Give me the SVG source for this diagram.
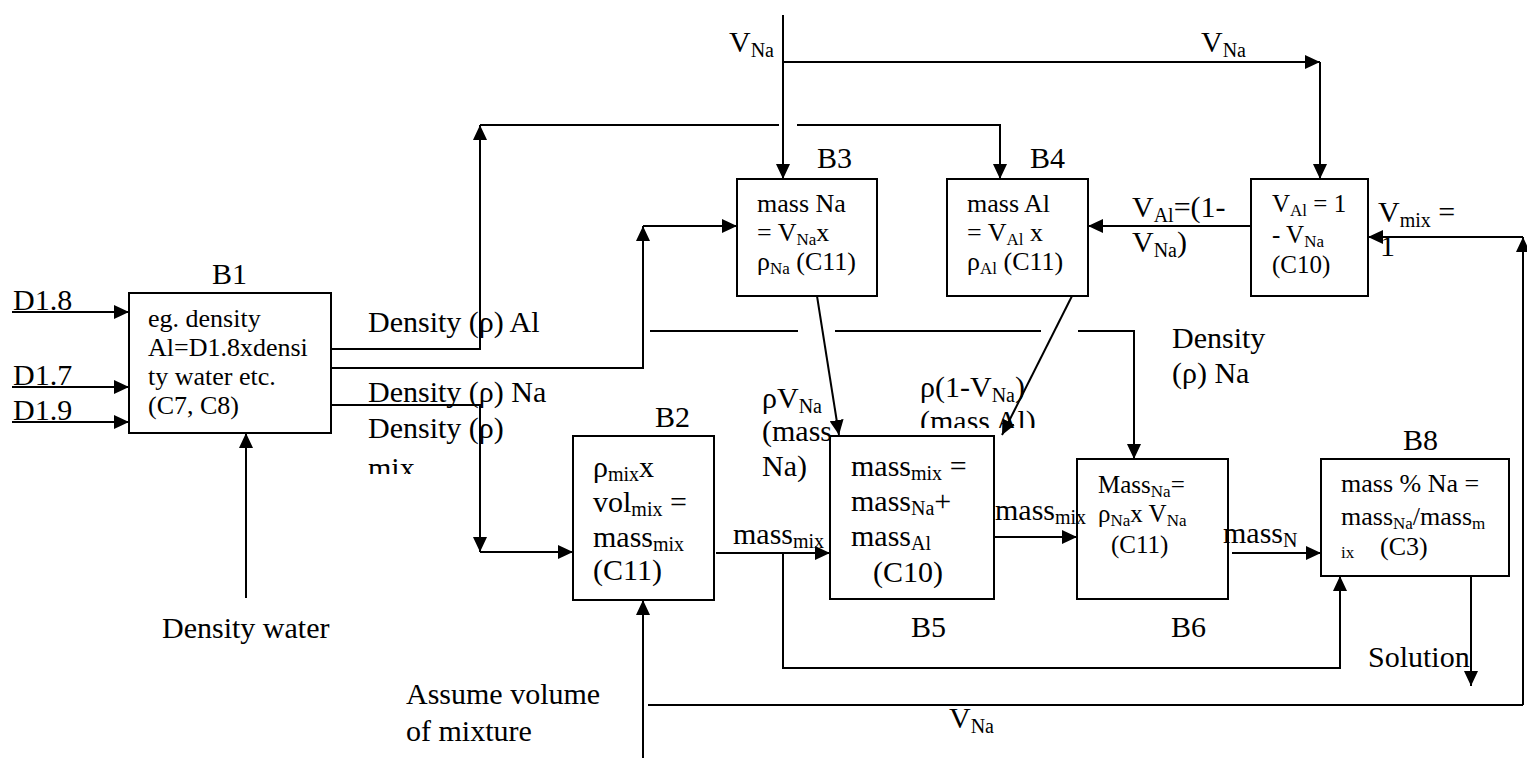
<svg xmlns="http://www.w3.org/2000/svg" width="1527" height="758" viewBox="0 0 1527 758" font-family="'Liberation Serif', 'Times New Roman', 'DejaVu Serif', serif">
<style>
text{font-family:'Liberation Serif','Times New Roman','DejaVu Serif',serif;fill:#000}
.f30{font-size:30px}.f26{font-size:26px}.f25{font-size:25px}
.ln{stroke:#000;stroke-width:2;fill:none}
.a{marker-end:url(#ah)}
.box{fill:#fff;stroke:#000;stroke-width:2}
</style>
<defs>
<marker id="ah" markerWidth="16" markerHeight="14" refX="15" refY="7" orient="auto" markerUnits="userSpaceOnUse"><path d="M0,0 L15,7 L0,14 z" fill="#000"/></marker>
<clipPath id="c1"><rect x="900" y="360" width="200" height="68"/></clipPath>
<clipPath id="c2"><rect x="360" y="440" width="100" height="34"/></clipPath>
</defs>
<rect width="1527" height="758" fill="#fff"/>
<g id="connectors">
<path class="ln a" d="M12,312 H129"/>
<path class="ln a" d="M12,387 H129"/>
<path class="ln a" d="M12,422 H129"/>
<path class="ln a" d="M246,598 V433"/>
<path class="ln a" d="M331,349 H480 V125"/>
<path class="ln" d="M480,125 H779"/>
<path class="ln a" d="M797,125 H1000 V179"/>
<path class="ln a" d="M331,368 H643 V226"/>
<path class="ln a" d="M643,226 H737"/>
<path class="ln a" d="M331,405 H480 V552"/>
<path class="ln a" d="M480,552 H573"/>
<path class="ln a" d="M783,15 V179"/>
<path class="ln a" d="M783,62 H1320"/>
<path class="ln a" d="M1320,62 V179"/>
<path class="ln a" d="M1251,226 H1088"/>
<path class="ln a" d="M1523,705 V237"/>
<path class="ln a" d="M1523,237 H1368"/>
<path class="ln" d="M648,705 H1523"/>
<path class="ln a" d="M643,758 V600"/>
<path class="ln a" d="M716,553 H830"/>
<path class="ln a" d="M783,553 V668 H1340 V576"/>
<path class="ln a" d="M817,296 L839,435"/>
<path class="ln a" d="M1072,296 L1002,435"/>
<path class="ln" d="M650,331 H798 M835,331 H1041"/>
<path class="ln a" d="M1078,331 H1134 V459"/>
<path class="ln a" d="M994,537 H1077"/>
<path class="ln a" d="M1232,553 H1321"/>
<path class="ln a" d="M1471,576 V686"/>
</g>
<g id="B1">
<rect class="box" x="129" y="293" width="202" height="140"/>
<text class="f30" x="212" y="284">B1</text>
<text class="f26" x="148" y="327">eg. density</text>
<text class="f26" x="148" y="356">Al=D1.8xdensi</text>
<text class="f26" x="148" y="385">ty water etc.</text>
<text class="f26" x="148" y="414">(C7, C8)</text>
</g>
<g id="B2">
<rect class="box" x="573" y="436" width="141" height="164"/>
<text class="f30" x="655" y="427">B2</text>
<text class="f30" x="593" y="477">ρ<tspan font-size="20" dy="4">mix</tspan><tspan dy="-4">x</tspan></text>
<text class="f30" x="593" y="512">vol<tspan font-size="20" dy="4">mix</tspan><tspan dy="-4"> =</tspan></text>
<text class="f30" x="593" y="547">mass<tspan font-size="20" dy="4">mix</tspan></text>
<text class="f30" x="593" y="580">(C11)</text>
</g>
<g id="B3">
<rect class="box" x="737" y="179" width="140" height="117"/>
<text class="f30" x="817" y="168">B3</text>
<text class="f26" x="757" y="212">mass Na</text>
<text class="f26" x="757" y="241">= V<tspan font-size="17" dy="4">Na</tspan><tspan dy="-4">x</tspan></text>
<text class="f26" x="757" y="270">ρ<tspan font-size="17" dy="4">Na</tspan><tspan dy="-4"> (C11)</tspan></text>
</g>
<g id="B4">
<rect class="box" x="947" y="179" width="141" height="117"/>
<text class="f30" x="1030" y="168">B4</text>
<text class="f26" x="967" y="212">mass Al</text>
<text class="f26" x="967" y="241">= V<tspan font-size="17" dy="4">Al</tspan><tspan dy="-4"> x</tspan></text>
<text class="f26" x="967" y="270">ρ<tspan font-size="17" dy="4">Al</tspan><tspan dy="-4"> (C11)</tspan></text>
</g>
<g id="B7">
<rect class="box" x="1251" y="179" width="117" height="117"/>
<text class="f25" x="1272" y="212">V<tspan font-size="17" dy="4">Al</tspan><tspan dy="-4"> = 1</tspan></text>
<text class="f25" x="1272" y="243">- V<tspan font-size="17" dy="4">Na</tspan></text>
<text class="f25" x="1272" y="273">(C10)</text>
</g>
<g id="B5">
<rect class="box" x="830" y="436" width="164" height="163"/>
<text class="f30" x="911" y="637">B5</text>
<text class="f30" x="851" y="476">mass<tspan font-size="20" dy="4">mix</tspan><tspan dy="-4"> =</tspan></text>
<text class="f30" x="851" y="511">mass<tspan font-size="20" dy="4">Na</tspan><tspan dy="-4">+</tspan></text>
<text class="f30" x="851" y="546">mass<tspan font-size="20" dy="4">Al</tspan></text>
<text class="f30" x="873" y="582">(C10)</text>
</g>
<g id="B6">
<rect class="box" x="1077" y="459" width="151" height="140"/>
<text class="f30" x="1171" y="637">B6</text>
<text class="f25" x="1098" y="493">Mass<tspan font-size="17" dy="4">Na</tspan><tspan dy="-4">=</tspan></text>
<text class="f25" x="1098" y="522">ρ<tspan font-size="17" dy="4">Na</tspan><tspan dy="-4">x V</tspan><tspan font-size="17" dy="4">Na</tspan></text>
<text class="f25" x="1111" y="553">(C11)</text>
</g>
<g id="B8">
<rect class="box" x="1321" y="459" width="188" height="117"/>
<text class="f30" x="1403" y="450">B8</text>
<text class="f26" x="1341" y="492">mass % Na =</text>
<text class="f26" x="1341" y="525">mass<tspan font-size="17" dy="4">Na</tspan><tspan dy="-4">/mass</tspan><tspan font-size="17" dy="4">m</tspan></text>
<text font-size="17" x="1341" y="558">ix</text>
<text class="f26" x="1380" y="555">(C3)</text>
</g>
<g id="labels">
<text class="f30" x="13" y="310">D1.8</text>
<text class="f30" x="13" y="385">D1.7</text>
<text class="f30" x="13" y="420">D1.9</text>
<text class="f30" x="162" y="638">Density water</text>
<text class="f30" x="368" y="332">Density (ρ) Al</text>
<text class="f30" x="368" y="402">Density (ρ) Na</text>
<text class="f30" x="368" y="438">Density (ρ)</text>
<text class="f30" x="368" y="478" clip-path="url(#c2)">mix</text>
<text class="f30" x="729" y="52">V<tspan font-size="20" dy="5">Na</tspan></text>
<text class="f30" x="1201" y="52">V<tspan font-size="20" dy="5">Na</tspan></text>
<text class="f30" x="949" y="728">V<tspan font-size="20" dy="5">Na</tspan></text>
<text class="f30" x="1132" y="217">V<tspan font-size="20" dy="5">Al</tspan><tspan dy="-5">=(1-</tspan></text>
<text class="f30" x="1132" y="252">V<tspan font-size="20" dy="5">Na</tspan><tspan dy="-5">)</tspan></text>
<text class="f30" x="1378" y="222">V<tspan font-size="20" dy="5">mix</tspan><tspan dy="-5"> =</tspan></text>
<text class="f30" x="1380" y="256">1</text>
<text class="f30" x="1172" y="348">Density</text>
<text class="f30" x="1172" y="383">(ρ) Na</text>
<text class="f30" x="762" y="408">ρV<tspan font-size="20" dy="5">Na</tspan></text>
<text class="f30" x="762" y="441">(mass</text>
<text class="f30" x="762" y="476">Na)</text>
<text class="f30" x="920" y="397">ρ(1-V<tspan font-size="20" dy="5">Na</tspan><tspan dy="-5">)</tspan></text>
<text class="f30" x="920" y="431" clip-path="url(#c1)">(mass Al)</text>
<text class="f30" x="733" y="544">mass<tspan font-size="20" dy="4">mix</tspan></text>
<text class="f30" x="995" y="520">mass<tspan font-size="20" dy="4">mix</tspan></text>
<text class="f30" x="1223" y="543">mass<tspan font-size="20" dy="4">N</tspan></text>
<text class="f30" x="1368" y="667">Solution</text>
<text class="f30" x="406" y="704">Assume volume</text>
<text class="f30" x="406" y="741">of mixture</text>
</g>
</svg>
